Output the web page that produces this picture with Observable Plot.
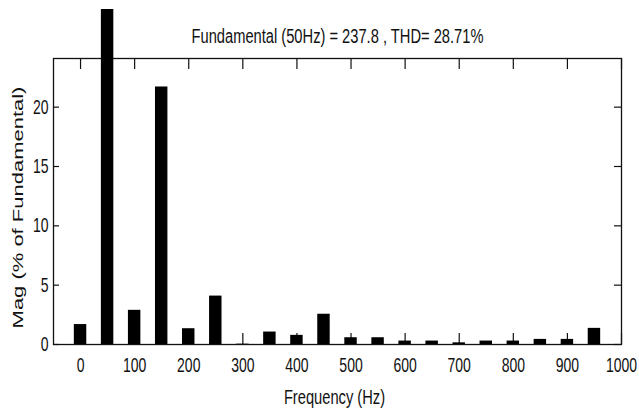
<!DOCTYPE html>
<html>
<head>
<meta charset="utf-8">
<script src="https://cdn.jsdelivr.net/npm/d3@7"></script>
<script src="https://cdn.jsdelivr.net/npm/@observablehq/plot@0.6"></script>
<style>
  html, body { margin: 0; padding: 0; background: white; }
  #wrap { position: absolute; left: 0; top: 9px; width: 639px; height: 403px; overflow: hidden; }
</style>
</head>
<body>
<div id="wrap"></div>
<script>
// ---- data ----
const freqs = [0, 50, 100, 150, 200, 250, 300, 350, 400, 450, 500, 550, 600, 650, 700, 750, 800, 850, 900, 950];
const mags  = [1.68, 100, 2.88, 21.7, 1.33, 4.08, 0.03, 1.05, 0.77, 2.55, 0.57, 0.57, 0.29, 0.29, 0.14, 0.29, 0.29, 0.43, 0.43, 1.36];
const xTicks = [0, 100, 200, 300, 400, 500, 600, 700, 800, 900, 1000];
const yTicks = [0, 5, 10, 15, 20];
const titleText = "Fundamental (50Hz) = 237.8 , THD= 28.71%";
const xLabel = "Frequency (Hz)";
const yLabel = "Mag (% of Fundamental)";

const data = freqs.map((f, i) => ({f, v: mags[i]}));

// ---- layout ----
const W = 639, H = 403;
const mL = 53, mR = 18, mT = 49, mB = 68;
const frameW = W - mL - mR, frameH = H - mT - mB;
const halfBar = 11.5; // Hz
const ink = "#111";

const chart = Plot.plot({
  width: W, height: H,
  marginLeft: mL, marginRight: mR, marginTop: mT, marginBottom: mB,
  style: {fontFamily: "'Liberation Sans', Arial, sans-serif", fontSize: "20px", color: ink, background: "white", overflow: "hidden"},
  x: {domain: [-50, 1000], axis: null},
  y: {domain: [0, 24.1], axis: null},
  marks: [
    // inward ticks
    Plot.ruleX(xTicks, {stroke: ink, strokeWidth: 1.2, insetTop: frameH - 11}),
    Plot.ruleX(xTicks, {stroke: ink, strokeWidth: 1.2, insetBottom: frameH - 11}),
    Plot.ruleY(yTicks, {stroke: ink, strokeWidth: 1.2, insetRight: frameW - 6}),
    Plot.ruleY(yTicks, {stroke: ink, strokeWidth: 1.2, insetLeft: frameW - 7}),
    Plot.frame({stroke: ink, strokeWidth: 1.3}),
    // bars
    Plot.rectY(data, {x1: d => d.f - halfBar, x2: d => d.f + halfBar, y1: 0, y2: "v", fill: "black"}),
    // axes labels
    Plot.axisX(xTicks, {anchor: "bottom", tickSize: 0, tickPadding: 13, fontSize: 20, label: null, tickFormat: d => String(d), fill: ink}),
    Plot.axisY(yTicks, {anchor: "left", tickSize: 0, tickPadding: 5, fontSize: 20, label: null, tickFormat: d => String(d), fill: ink}),
    Plot.text([titleText], {text: d => d, frameAnchor: "top", dy: -16, lineAnchor: "bottom", fontSize: 21, fill: ink}),
    Plot.text([xLabel], {text: d => d, frameAnchor: "bottom", dy: 59, dx: -3, lineAnchor: "bottom", fontSize: 21, fill: ink}),
    Plot.text([yLabel], {text: d => d, frameAnchor: "left", dx: -38, dy: 6, rotate: -90, textAnchor: "middle", lineAnchor: "middle", fontSize: 22, fill: ink})
  ]
});

document.getElementById("wrap").appendChild(chart);

// horizontally condense all text (reference uses a narrow face)
const s = 0.7;
chart.querySelectorAll("text").forEach(t => {
  const tl = t.transform.baseVal.consolidate();
  const M = tl ? tl.matrix : chart.createSVGMatrix();
  const x = t.x.baseVal.length ? t.x.baseVal[0].value : 0;
  const y = t.y.baseVal.length ? t.y.baseVal[0].value : 0;
  const px = M.a * x + M.c * y + M.e;
  const T = t.getAttribute("transform") || "";
  t.setAttribute("transform", `translate(${px},0) scale(${s},1) translate(${-px},0) ${T}`);
});
</script>
</body>
</html>
